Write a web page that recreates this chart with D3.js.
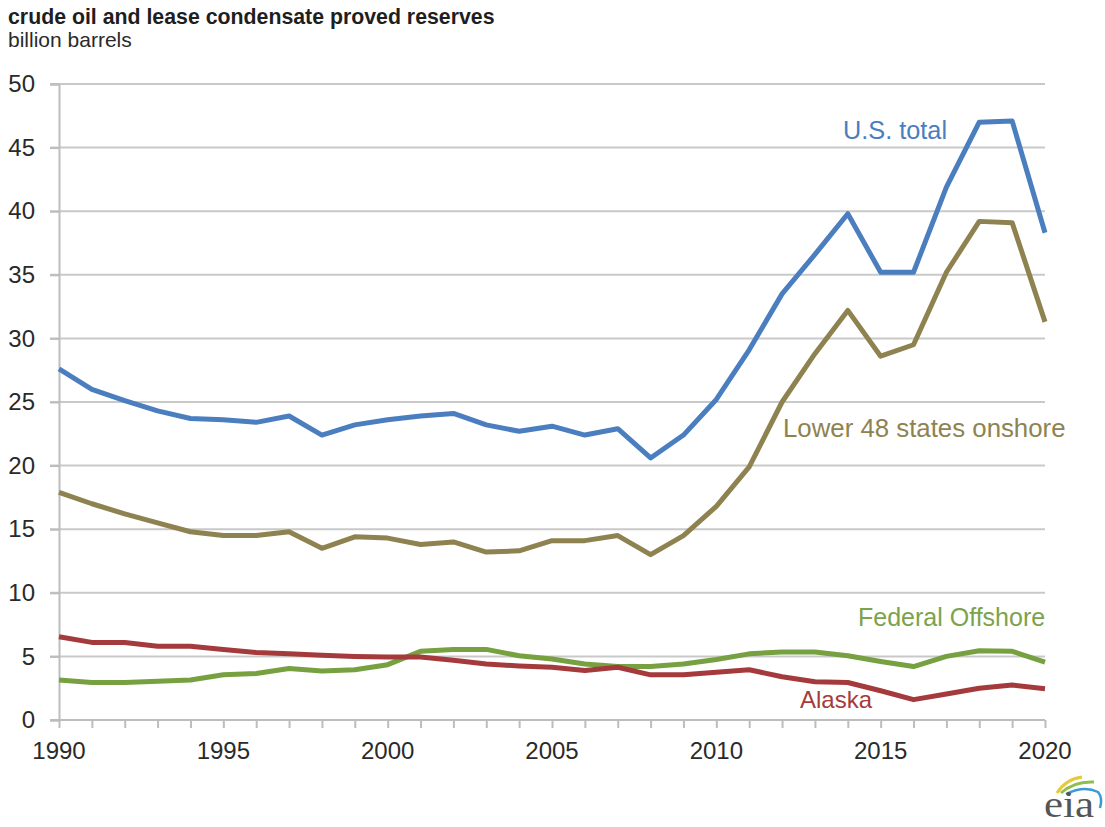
<!DOCTYPE html>
<html>
<head>
<meta charset="utf-8">
<script src="https://cdn.jsdelivr.net/npm/d3@7"></script>
<style>
  html, body { margin: 0; padding: 0; background: #ffffff; }
  svg { display: block; font-family: "Liberation Sans", Arial, sans-serif; }
</style>
</head>
<body>
<svg id="chart" width="1105" height="827"></svg>
<script>
// Crude oil and lease condensate proved reserves, billion barrels
const years = d3.range(1990, 2021);

const usTotal = [27.6, 26.0, 25.1, 24.3, 23.7, 23.6, 23.4, 23.9, 22.4, 23.2,
                 23.6, 23.9, 24.1, 23.2, 22.7, 23.1, 22.4, 22.9, 20.6, 22.4,
                 25.2, 29.1, 33.5, 36.6, 39.8, 35.2, 35.2, 41.9, 47.0, 47.1, 38.3];

const lower48 = [17.9, 17.0, 16.2, 15.5, 14.8, 14.5, 14.5, 14.8, 13.5, 14.4,
                 14.3, 13.8, 14.0, 13.2, 13.3, 14.1, 14.1, 14.5, 13.0, 14.5,
                 16.8, 19.9, 25.0, 28.8, 32.2, 28.6, 29.5, 35.2, 39.2, 39.1, 31.3];

const fedOffshore = [3.15, 2.95, 2.95, 3.05, 3.15, 3.55, 3.65, 4.05, 3.85, 3.95,
                     4.35, 5.4, 5.55, 5.55, 5.05, 4.8, 4.4, 4.2, 4.2, 4.4,
                     4.75, 5.2, 5.35, 5.35, 5.05, 4.6, 4.2, 5.0, 5.45, 5.4, 4.55];

const alaska = [6.55, 6.1, 6.1, 5.8, 5.8, 5.55, 5.3, 5.2, 5.1, 5.0,
                4.95, 4.95, 4.7, 4.4, 4.25, 4.15, 3.9, 4.15, 3.55, 3.55,
                3.75, 3.95, 3.4, 3.0, 2.95, 2.3, 1.6, 2.05, 2.5, 2.75, 2.45];

const yTicks = [0, 5, 10, 15, 20, 25, 30, 35, 40, 45, 50];
const xLabelYears = [1990, 1995, 2000, 2005, 2010, 2015, 2020];

const seriesList = [
  { name: "Federal Offshore", values: fedOffshore, color: "#77a041", label: [858, 626], size: 25, labelColor: "#7ba34b" },
  { name: "Alaska", values: alaska, color: "#a53a3c", label: [800, 708], size: 24, labelColor: "#a53a3c" },
  { name: "Lower 48 states onshore", values: lower48, color: "#8e8350", label: [783, 437], size: 25.8, labelColor: "#8e8350" },
  { name: "U.S. total", values: usTotal, color: "#4a7ebf", label: [843, 139], size: 25.3, labelColor: "#4a7ebf" }
];

const svg = d3.select("#chart");

const x = d3.scaleLinear().domain([1990, 2020]).range([59, 1045]);
const y = d3.scaleLinear().domain([0, 50]).range([720, 84]);

// Title block
svg.append("text")
  .attr("x", 8).attr("y", 24)
  .attr("font-size", 21.3).attr("font-weight", "bold").attr("fill", "#1e1e1e")
  .text("crude oil and lease condensate proved reserves");
svg.append("text")
  .attr("x", 8).attr("y", 47)
  .attr("font-size", 21).attr("fill", "#2a2a2a")
  .text("billion barrels");

// Horizontal gridlines
svg.append("g")
  .selectAll("line")
  .data(yTicks.filter(d => d > 0))
  .join("line")
  .attr("x1", 50).attr("x2", 1045)
  .attr("y1", d => y(d)).attr("y2", d => y(d))
  .attr("stroke", "#c9c9c9").attr("stroke-width", 2);

// Y axis
const yAxis = svg.append("g")
  .attr("transform", `translate(${x(1990)},0)`)
  .call(d3.axisLeft(y).tickValues(yTicks).tickSize(9).tickPadding(15).tickFormat(d3.format("d")));
yAxis.select(".domain").attr("stroke", "#bdbdbd").attr("stroke-width", 2);
yAxis.selectAll(".tick line").attr("stroke", "#bdbdbd").attr("stroke-width", 2);
yAxis.selectAll(".tick text")
  .attr("font-size", 24).attr("fill", "#2a2a2a")
  .attr("font-family", "'Liberation Sans', Arial, sans-serif");

// X axis: a tick every year, labels every five years
const xAxis = svg.append("g")
  .attr("transform", `translate(0,${y(0)})`)
  .call(d3.axisBottom(x).tickValues(years).tickSize(8).tickFormat(""));
xAxis.select(".domain").attr("stroke", "#bdbdbd").attr("stroke-width", 2)
  .attr("d", `M50,0H${x(2020)}`);
xAxis.selectAll(".tick line").attr("stroke", "#bdbdbd").attr("stroke-width", 2);

svg.append("g")
  .selectAll("text")
  .data(xLabelYears)
  .join("text")
  .attr("x", d => x(d)).attr("y", 759)
  .attr("text-anchor", "middle")
  .attr("font-size", 24).attr("fill", "#2a2a2a")
  .text(d => d);

// Series lines
const line = d3.line()
  .x((d, i) => x(years[i]))
  .y(d => y(d));

svg.append("g")
  .selectAll("path")
  .data(seriesList)
  .join("path")
  .attr("d", s => line(s.values))
  .attr("fill", "none")
  .attr("stroke", s => s.color)
  .attr("stroke-width", 5)
  .attr("stroke-linejoin", "round");

// Direct series labels
svg.append("g")
  .selectAll("text")
  .data(seriesList)
  .join("text")
  .attr("x", s => s.label[0]).attr("y", s => s.label[1])
  .attr("font-size", s => s.size)
  .attr("fill", s => s.labelColor)
  .text(s => s.name);

// eia logo
const logo = svg.append("g");
logo.append("path")
  .attr("d", "M1057,793 Q1066,779 1082,777")
  .attr("fill", "none").attr("stroke", "#e6c93a").attr("stroke-width", 3);
logo.append("path")
  .attr("d", "M1061,793 Q1074,781 1094,782")
  .attr("fill", "none").attr("stroke", "#8cc04a").attr("stroke-width", 3);
logo.append("path")
  .attr("d", "M1066,794 Q1084,785 1098,792 Q1103,798 1100,808")
  .attr("fill", "none").attr("stroke", "#3a9ad8").attr("stroke-width", 2.5);
logo.append("text")
  .attr("x", 1044).attr("y", 817)
  .attr("font-family", "'Liberation Serif', 'DejaVu Serif', serif")
  .attr("font-size", 38).attr("fill", "#555555")
  .attr("textLength", 50).attr("lengthAdjust", "spacingAndGlyphs")
  .text("eia");
</script>
</body>
</html>
